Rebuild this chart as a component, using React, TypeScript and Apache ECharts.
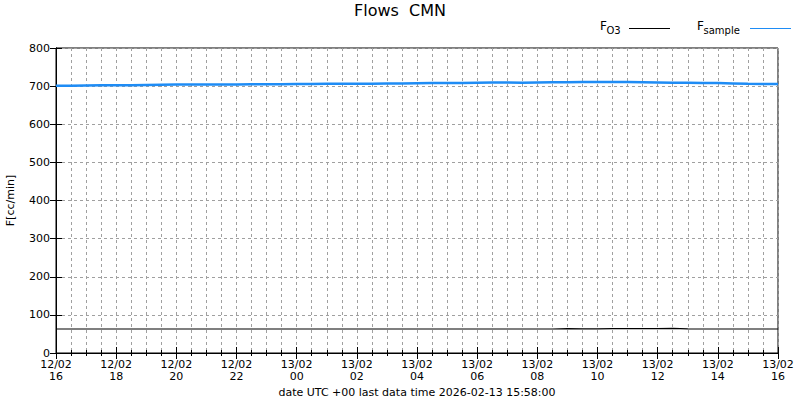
import React, { useEffect, useRef } from "react";
import * as echarts from "echarts";

const xTickLabels = [
  "12/02\n16", "12/02\n18", "12/02\n20", "12/02\n22", "13/02\n00", "13/02\n02",
  "13/02\n04", "13/02\n06", "13/02\n08", "13/02\n10", "13/02\n12", "13/02\n14", "13/02\n16",
];

// one value every 30 minutes, from 12/02 16:00 to 13/02 16:00
const sampleFlow = [
  701, 701, 701.5, 702, 702, 702.5, 703, 703.5, 704, 704,
  704, 704.5, 704.5, 705, 705, 705, 705.5, 705.5, 706, 706,
  706, 706.5, 707, 707, 707.5, 708, 708, 708.5, 709, 709.5,
  709.5, 709, 709.5, 710, 710, 710.5, 711, 711, 710.5, 710,
  709.5, 709, 709, 708.5, 708, 707, 706, 705.5, 705.5,
];
const o3Flow = [
  63, 63, 63, 63, 63, 63, 63, 63, 63, 63,
  63, 63, 63, 63, 63, 63, 63, 63, 63, 63,
  63, 63, 63, 63, 63, 63, 63, 63, 63, 63,
  63, 63, 63, 63, 64, 63.5, 63.5, 64, 64, 64,
  64, 64.5, 63.5, 63, 63, 63, 63, 63, 63,
];
const legendNames = ["O3", "sample"];

const FONT = "DejaVu Sans";
const GRID_COLOR = "#a0a0a0";
const BLUE = "#1e8cf5";

export default function App() {
  const ref = useRef<HTMLDivElement>(null);
  useEffect(() => {
    const chart = echarts.init(ref.current!, null, { renderer: "svg" });
    const toPairs = (arr: number[]) => arr.map((v, i) => [i * 0.5, v]);
    const axisCommonX = {
      type: "value",
      min: 0,
      max: 24,
      interval: 2,
      axisLine: { show: true, lineStyle: { color: "#000", width: 1 } },
      axisTick: { show: true, inside: true, length: 6, lineStyle: { color: "#000" } },
      minorTick: { show: true, splitNumber: 4, length: 3, lineStyle: { color: "#000" } },
    };
    const legendItem = (xF: number, xLine: number, sub: string, color: string) => [
      {
        type: "text",
        x: xF,
        y: 26,
        style: { text: "F", font: `12px "${FONT}"`, fill: "#000", align: "left", verticalAlign: "middle" },
      },
      {
        type: "text",
        x: xF + 6.5,
        y: 30.5,
        style: { text: sub, font: `10px "${FONT}"`, fill: "#000", align: "left", verticalAlign: "middle" },
      },
      {
        type: "line",
        shape: { x1: xLine, y1: 28.5, x2: xLine + 41, y2: 28.5 },
        style: { stroke: color, lineWidth: 1 },
      },
    ];
    chart.setOption({
      animation: false,
      backgroundColor: "#fff",
      textStyle: { fontFamily: FONT },
      title: {
        text: "Flows  CMN",
        left: "center",
        top: -3,
        textStyle: { fontFamily: FONT, fontSize: 16, fontWeight: "normal", color: "#000" },
      },
      graphic: [
        ...legendItem(600, 629, legendNames[0], "#000"),
        ...legendItem(697, 750, legendNames[1], BLUE),
      ],
      grid: {
        left: 56, right: 22, top: 48, bottom: 47,
        outerBoundsMode: "none",
        containLabel: false,
        show: true, borderColor: "#000", borderWidth: 1,
      },
      xAxis: [
        {
          ...axisCommonX,
          position: "bottom",
          name: "date UTC +00 last data time 2026-02-13 15:58:00",
          nameLocation: "middle",
          nameGap: 32,
          nameTextStyle: { fontFamily: FONT, fontSize: 11, color: "#000" },
          axisLabel: {
            color: "#000",
            fontFamily: FONT,
            fontSize: 11,
            lineHeight: 12,
            margin: 5,
            formatter: (v: number) => xTickLabels[Math.round(v / 2)] ?? "",
          },
          splitLine: { show: true, lineStyle: { color: GRID_COLOR, type: [3, 3], width: 1 } },
          minorSplitLine: { show: true, lineStyle: { color: GRID_COLOR, type: [3, 3], width: 1 } },
        },
        {
          ...axisCommonX,
          position: "top",
          axisLabel: { show: false },
          splitLine: { show: false },
          minorSplitLine: { show: false },
        },
      ],
      yAxis: [
        {
          type: "value",
          min: 0,
          max: 800,
          interval: 100,
          name: "F[cc/min]",
          nameLocation: "middle",
          nameGap: 40,
          nameTextStyle: { fontFamily: FONT, fontSize: 11, color: "#000" },
          axisLine: { show: true, lineStyle: { color: "#000" } },
          axisTick: { show: true, inside: true, length: 6, lineStyle: { color: "#000" } },
          axisLabel: { color: "#000", fontFamily: FONT, fontSize: 11, margin: 6 },
          splitLine: { show: true, lineStyle: { color: GRID_COLOR, type: [3, 3], width: 1 } },
        },
        {
          type: "value",
          min: 0,
          max: 800,
          interval: 100,
          position: "right",
          axisLine: { show: true, lineStyle: { color: "#000" } },
          axisTick: { show: true, inside: true, length: 6, lineStyle: { color: "#000" } },
          axisLabel: { show: false },
          splitLine: { show: false },
        },
      ],
      series: [
        {
          name: legendNames[0],
          type: "line",
          data: toPairs(o3Flow),
          showSymbol: false,
          symbol: "none",
          lineStyle: { color: "#000", width: 1.2 },
          itemStyle: { color: "#000" },
        },
        {
          name: legendNames[1],
          type: "line",
          data: toPairs(sampleFlow),
          showSymbol: false,
          symbol: "none",
          lineStyle: { color: BLUE, width: 2.5 },
          itemStyle: { color: BLUE },
        },
      ],
    });
    return () => chart.dispose();
  }, []);
  return <div ref={ref} style={{ width: 800, height: 400, position: "absolute", left: 0, top: 0 }} />;
}
